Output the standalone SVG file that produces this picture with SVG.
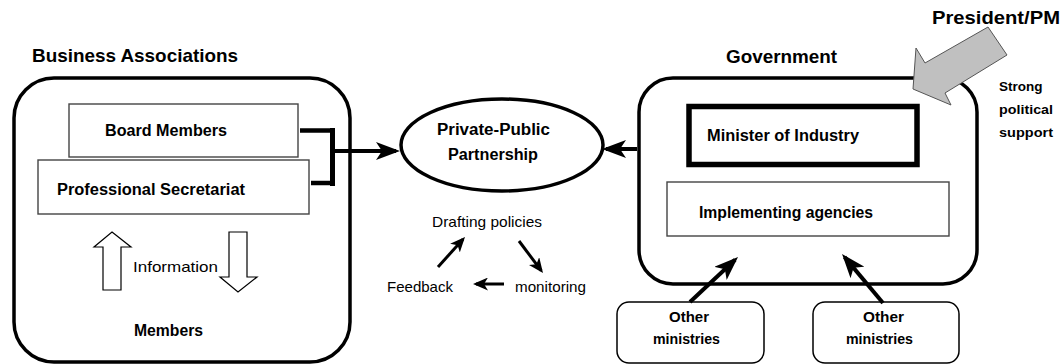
<svg xmlns="http://www.w3.org/2000/svg" width="1061" height="364" viewBox="0 0 1061 364">
<style>
.bg{fill:#fff}
.big{fill:#fff;stroke:#000;stroke-width:3.5}
.thin{fill:#fff;stroke:#444;stroke-width:1.4}
.thick{fill:#fff;stroke:#000;stroke-width:5.5}
.mini{fill:#fff;stroke:#000;stroke-width:1.5}
.hollow{fill:#fff;stroke:#000;stroke-width:1.2}
.b{font-family:"Liberation Sans",Arial,sans-serif;font-weight:bold;fill:#000}
.r{font-family:"Liberation Sans",Arial,sans-serif;fill:#000}
.con{stroke:#000;fill:none}
.w4{stroke-width:4}
.w3{stroke-width:3}
</style>
<defs>
<marker id="ah" viewBox="0 0 24 18" refX="20" refY="9" markerWidth="24" markerHeight="18" markerUnits="userSpaceOnUse" orient="auto">
<path d="M0,0 L24,9 L0,18 L6,9 z" fill="#000"/>
</marker>
<marker id="ahs" viewBox="0 0 15 13" refX="12" refY="6.5" markerWidth="15" markerHeight="13" markerUnits="userSpaceOnUse" orient="auto">
<path d="M0,0 L15,6.5 L0,13 L4,6.5 z" fill="#000"/>
</marker>
</defs>
<rect class="bg" x="0" y="0" width="1061" height="364"/>

<g id="business-associations">
<text class="b" x="32" y="62" font-size="19" textLength="206" lengthAdjust="spacingAndGlyphs">Business Associations</text>
<rect class="big" x="14" y="78" width="336" height="284" rx="40" ry="40"/>
</g>

<g id="board-members">
<rect class="thin" x="69" y="104" width="229" height="53"/>
<text class="b" x="105" y="136" font-size="16" textLength="122" lengthAdjust="spacingAndGlyphs">Board Members</text>
</g>

<g id="professional-secretariat">
<rect class="thin" x="38" y="160" width="271" height="54"/>
<text class="b" x="57" y="195" font-size="16" textLength="188" lengthAdjust="spacingAndGlyphs">Professional Secretariat</text>
</g>

<g id="information">
<polygon class="hollow" points="112,232 131,247 121,247 121,290 103,290 103,247 94,247"/>
<polygon class="hollow" points="229,232 247,232 247,277 257,277 238,292 220,277 229,277"/>
<text class="r" x="133" y="272" font-size="15" textLength="85" lengthAdjust="spacingAndGlyphs">Information</text>
</g>

<g id="members">
<text class="b" x="134" y="336" font-size="16" textLength="69" lengthAdjust="spacingAndGlyphs">Members</text>
</g>

<g id="private-public-partnership">
<ellipse class="big" cx="502" cy="145" rx="101" ry="46"/>
<text class="b" x="437" y="135" font-size="16" textLength="113" lengthAdjust="spacingAndGlyphs">Private-Public</text>
<text class="b" x="448" y="160" font-size="16" textLength="90" lengthAdjust="spacingAndGlyphs">Partnership</text>
</g>

<g id="policy-cycle">
<text class="r" x="432" y="227" font-size="15" textLength="110" lengthAdjust="spacingAndGlyphs">Drafting policies</text>
<text class="r" x="387" y="292" font-size="15" textLength="66" lengthAdjust="spacingAndGlyphs">Feedback</text>
<text class="r" x="515" y="292" font-size="15" textLength="71" lengthAdjust="spacingAndGlyphs">monitoring</text>
</g>

<g id="government">
<text class="b" x="726" y="63" font-size="19" textLength="111" lengthAdjust="spacingAndGlyphs">Government</text>
<rect class="big" x="639" y="78" width="338" height="206" rx="34" ry="34"/>
</g>

<g id="minister-of-industry">
<rect class="thick" x="689" y="106.5" width="228" height="58"/>
<text class="b" x="707" y="141" font-size="16" textLength="152" lengthAdjust="spacingAndGlyphs">Minister of Industry</text>
</g>

<g id="implementing-agencies">
<rect class="thin" x="667" y="182" width="282" height="54"/>
<text class="b" x="699" y="218" font-size="16" textLength="174" lengthAdjust="spacingAndGlyphs">Implementing agencies</text>
</g>

<g id="other-ministries-1">
<rect class="mini" x="617" y="302" width="147" height="61" rx="12" ry="12"/>
<text class="b" x="669" y="322" font-size="15" textLength="40" lengthAdjust="spacingAndGlyphs">Other</text>
<text class="b" x="653" y="344" font-size="15" textLength="67" lengthAdjust="spacingAndGlyphs">ministries</text>
</g>

<g id="other-ministries-2">
<rect class="mini" x="813" y="302" width="146" height="61" rx="12" ry="12"/>
<text class="b" x="863" y="322" font-size="15" textLength="41" lengthAdjust="spacingAndGlyphs">Other</text>
<text class="b" x="846" y="344" font-size="15" textLength="67" lengthAdjust="spacingAndGlyphs">ministries</text>
</g>

<g id="president-pm">
<text class="b" x="932" y="24" font-size="19" textLength="128" lengthAdjust="spacingAndGlyphs">President/PM</text>
<polygon points="988,27 925,63 916,48 913,89 951,105 945,93 1007,55" fill="#c0c0c0" stroke="#555" stroke-width="1"/>
<text class="b" x="999" y="91" font-size="13.5">Strong</text>
<text class="b" x="999" y="114" font-size="13.5" textLength="54" lengthAdjust="spacingAndGlyphs">political</text>
<text class="b" x="999" y="137" font-size="13.5" textLength="54" lengthAdjust="spacingAndGlyphs">support</text>
</g>

<g id="connectors">
<line class="con" x1="300" y1="130.5" x2="330" y2="130.5" stroke-width="4.5"/>
<line class="con" x1="311" y1="183" x2="331" y2="183" stroke-width="4.5"/>
<line class="con" x1="332.5" y1="128" x2="332.5" y2="186" stroke-width="5"/>
<line class="con w4" x1="335" y1="151" x2="396" y2="151" marker-end="url(#ah)"/>
<line class="con w4" x1="637" y1="149" x2="606" y2="149" marker-end="url(#ah)"/>
<line class="con w3" x1="438" y1="267" x2="463" y2="239.2" marker-end="url(#ahs)"/>
<line class="con w3" x1="519" y1="241" x2="541.2" y2="270.6" marker-end="url(#ahs)"/>
<line class="con w3" x1="504" y1="284" x2="476" y2="284" marker-end="url(#ahs)"/>
<line class="con w4" x1="690" y1="302" x2="735.1" y2="259.7" marker-end="url(#ah)"/>
<line class="con w4" x1="883" y1="303" x2="844.6" y2="257.1" marker-end="url(#ah)"/>
</g>
</svg>
